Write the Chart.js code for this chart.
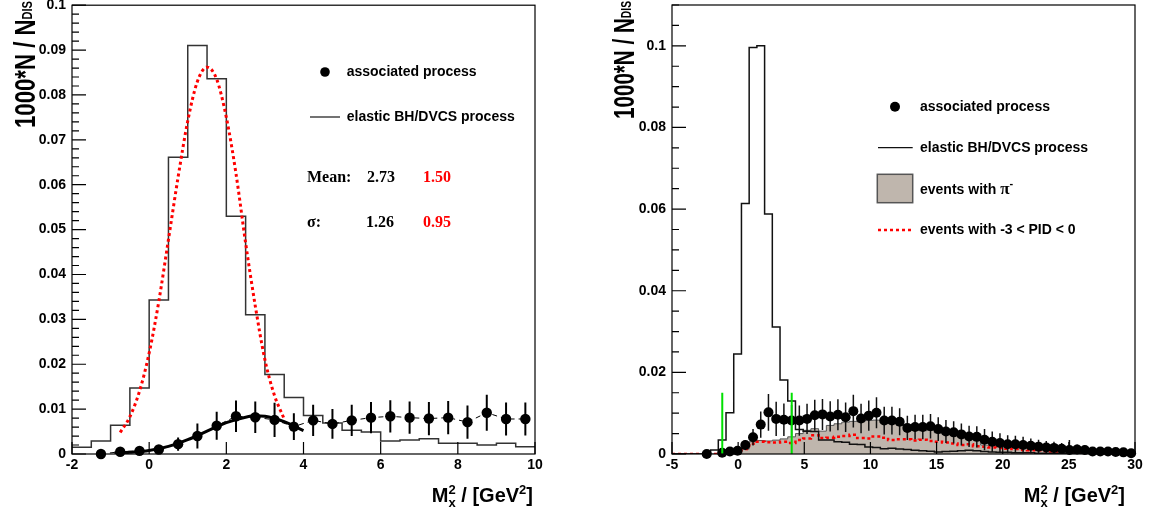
<!DOCTYPE html>
<html>
<head>
<meta charset="utf-8">
<script src="https://cdn.jsdelivr.net/npm/chart.js@4.4.0/dist/chart.umd.min.js"></script>
<style>
  body { margin: 0; background: #fff; }
  canvas { position: absolute; top: 0; }
  #leftChart { left: 0; }
  #rightChart { left: 577px; }
</style>
</head>
<body>
<canvas id="leftChart" width="577" height="513"></canvas>
<canvas id="rightChart" width="577" height="513"></canvas>
<script>
// ---------- left panel: 24 bins of 0.5 GeV^2 from -2 to 10
const leftBinStart = -2;
const leftBinWidth = 0.5;
const leftElastic = [0.0015, 0.0029, 0.0064, 0.0147, 0.0343, 0.0661, 0.0910, 0.0836, 0.0530, 0.0310, 0.0177, 0.0126,
                     0.0086, 0.0069, 0.0053, 0.0049, 0.0029, 0.0031, 0.0034, 0.0024, 0.0024, 0.0020, 0.0024, 0.0016];
const leftAssoc = [null, 0.0000, 0.0005, 0.0007, 0.0010, 0.0022, 0.0040, 0.0063, 0.0084, 0.0082, 0.0076, 0.0061,
                   0.0075, 0.0067, 0.0075, 0.0081, 0.0084, 0.0081, 0.0079, 0.0081, 0.0071, 0.0092, 0.0078, 0.0078];
const leftAssocErr = [null, 0.0003, 0.0004, 0.0005, 0.0007, 0.0015, 0.0028, 0.0031, 0.0035, 0.0035, 0.0038, 0.0030,
                      0.0035, 0.0033, 0.0035, 0.0035, 0.0036, 0.0036, 0.0037, 0.0037, 0.0037, 0.0040, 0.0037, 0.0037];
// fitted curves
const leftElasticFitX = [-0.75, -0.5, -0.25, 0, 0.25, 0.5, 0.75, 1.0, 1.25, 1.5, 1.75, 2.0, 2.25, 2.5, 2.75, 3.0, 3.25, 3.5];
const leftElasticFitY = [0.0048, 0.0083, 0.0140, 0.0225, 0.0340, 0.0478, 0.0617, 0.0742, 0.0830, 0.0862, 0.0835, 0.0750,
                         0.0625, 0.0470, 0.0330, 0.0210, 0.0130, 0.0078];
const leftAssocFitX = [-0.9, -0.5, 0, 0.5, 1.0, 1.5, 2.0, 2.5, 2.75, 3.0, 3.5, 4.0];
const leftAssocFitY = [0.0002, 0.0004, 0.0008, 0.0017, 0.0032, 0.0051, 0.0070, 0.0082, 0.0085, 0.0084, 0.0072, 0.0052];
const leftXTicks = { min: -2, max: 10, step: 2 };
const leftYTicks = { min: 0, max: 0.1, step: 0.01, minor: 0.002 };

// ---------- right panel: 60 bins from -5 to 30
const rightBinStart = -5;
const rightBinWidth = 35 / 60;
const rightElastic = [0, 0, 0, 0, 0, 0.0010, 0.0034, 0.0101, 0.0245, 0.0614,
                      0.0996, 0.1000, 0.0588, 0.0311, 0.0181, 0.0130, 0.0060, 0.0056, 0.0055, 0.0034,
                      0.0034, 0.0030, 0.0029, 0.0024, 0.0023, 0.0017, 0.0016, 0.0013, 0.0014, 0.0012,
                      0.0011, 0.0009, 0.0008, 0.0007, 0.0005, 0.0006, 0.0007, 0.0008, 0.0009, 0.0008,
                      0.0006, 0.0005, 0.0004, 0.0004, 0.0003, 0.0003, 0.0003, 0.0002, 0.0002, 0.0002,
                      0.0001, 0.0001, 0.0001, 0.0001, 0.0001, 0, 0, 0, 0, 0];
const rightPion = [0, 0, 0, 0, 0, 0, 0, 0, 0, 0.0012,
                   0.0030, 0.0033, 0.0032, 0.0034, 0.0037, 0.0042, 0.0050, 0.0058, 0.0062, 0.0056,
                   0.0070, 0.0074, 0.0078, 0.0080, 0.0079, 0.0082, 0.0083, 0.0077, 0.0075, 0.0074,
                   0.0060, 0.0058, 0.0057, 0.0058, 0.0052, 0.0048, 0.0047, 0.0042, 0.0040, 0.0038,
                   0.0022, 0.0020, 0.0018, 0.0017, 0.0015, 0.0013, 0.0012, 0.0011, 0.0010, 0.0009,
                   0.0008, 0.0007, 0.0006, 0.0005, 0.0004, 0.0003, 0.0003, 0.0002, 0.0001, 0.0001];
const rightPid = [0, 0, 0, 0, 0, 0, 0, 0, 0, 0.0012,
                  0.0025, 0.0030, 0.0029, 0.0028, 0.0030, 0.0027, 0.0034, 0.0038, 0.0046, 0.0039,
                  0.0040, 0.0042, 0.0044, 0.0047, 0.0039, 0.0038, 0.0043, 0.0040, 0.0034, 0.0036,
                  0.0036, 0.0033, 0.0035, 0.0032, 0.0030, 0.0028, 0.0026, 0.0022, 0.0024, 0.0019,
                  0.0018, 0.0016, 0.0015, 0.0013, 0.0012, 0.0010, 0.0009, 0.0009, 0.0007, 0.0006,
                  0.0005, 0.0004, 0.0004, 0.0003, 0.0002, 0.0001, 0.0001, 0.0001, 0.0001, 0.0001];
const rightAssoc = [null, null, null, null, 0.0000, null, 0.0003, 0.0006, 0.0008, 0.0022,
                    0.0041, 0.0072, 0.0102, 0.0086, 0.0084, 0.0082, 0.0082, 0.0086, 0.0095, 0.0097,
                    0.0092, 0.0096, 0.0090, 0.0105, 0.0087, 0.0094, 0.0101, 0.0082, 0.0082, 0.0079,
                    0.0064, 0.0066, 0.0066, 0.0068, 0.0061, 0.0055, 0.0053, 0.0048, 0.0043, 0.0042,
                    0.0035, 0.0030, 0.0027, 0.0024, 0.0024, 0.0022, 0.0020, 0.0018, 0.0016, 0.0015,
                    0.0013, 0.0010, 0.0011, 0.0010, 0.0006, 0.0006, 0.0006, 0.0005, 0.0004, 0.0002];
const rightAssocErr = [null, null, null, null, 0.0002, null, 0.0003, 0.0005, 0.0006, 0.0012,
                       0.0020, 0.0032, 0.0045, 0.0042, 0.0040, 0.0038, 0.0037, 0.0037, 0.0038, 0.0038,
                       0.0037, 0.0038, 0.0036, 0.0040, 0.0036, 0.0037, 0.0038, 0.0034, 0.0034, 0.0033,
                       0.0030, 0.0030, 0.0030, 0.0030, 0.0029, 0.0028, 0.0027, 0.0027, 0.0026, 0.0026,
                       0.0026, 0.0025, 0.0024, 0.0022, 0.0021, 0.0020, 0.0018, 0.0017, 0.0016, 0.0015,
                       0.0014, 0.0024, 0.0012, 0.0011, 0.0010, 0.0009, 0.0008, 0.0007, 0.0006, 0.0005];
const rightCutX = [-1.2, 4.05];
const rightCutHeight = 0.015;
const rightXTicks = { min: -5, max: 30, step: 5 };
const rightYTicks = { min: 0, max: 0.11, step: 0.02, minor: 0.005 };

const SANS = '"Liberation Sans", Arial, sans-serif';
const SERIF = '"Liberation Serif", "Times New Roman", serif';

// histogram as left-edge points plus the closing edge, drawn stepped
function histPoints(start, width, values) {
    const pts = values.map((v, i) => ({ x: start + i * width, y: v }));
    pts.push({ x: start + values.length * width, y: values[values.length - 1] });
    return pts;
}

function centerPoints(start, width, values) {
    return values.map((v, i) => ({ x: start + (i + 0.5) * width, y: v }));
}

// vertical error bars as point pairs broken by gaps
function errorBarPoints(start, width, values, errs) {
    const pts = [];
    values.forEach((v, i) => {
        if (v === null) return;
        const x = start + (i + 0.5) * width;
        pts.push({ x, y: v - errs[i] }, { x, y: v + errs[i] }, { x, y: null });
    });
    return pts;
}

function curvePoints(xs, ys) {
    return xs.map((x, i) => ({ x, y: ys[i] }));
}

function fmtY(v) {
    return v === 0 ? '0' : String(Math.round(v * 1000) / 1000);
}

function drawRich(ctx, parts, x, y, align) {
    let w = 0;
    parts.forEach(p => {
        ctx.font = `bold ${p.size}px ${p.family || SANS}`;
        p.w = ctx.measureText(p.t).width;
        if (!p.stack) w += p.w;
    });
    let cx = align === 'right' ? x - w : x;
    parts.forEach(p => {
        ctx.font = `bold ${p.size}px ${p.family || SANS}`;
        ctx.fillStyle = p.color || '#000';
        ctx.fillText(p.t, cx, y + (p.dy || 0));
        if (!p.stack) cx += p.w;
    });
    return w;
}

function yTitleParts() {
    return [{ t: '1000*N / N', size: 30 }, { t: 'DIS', size: 15, dy: -3 }];
}

function xTitleParts() {
    return [{ t: 'M', size: 20 }, { t: 'x', size: 13, dy: 5, stack: true }, { t: '2', size: 13, dy: -8 },
            { t: ' / [GeV', size: 20 }, { t: '2', size: 13, dy: -8 }, { t: ']', size: 20 }];
}

// ROOT-like frame, inner ticks and axis titles
function rootDecor(cfg) {
    return {
        id: 'rootDecor' + cfg.name,
        afterDraw(chart) {
            const ctx = chart.ctx;
            const a = chart.chartArea;
            const ys = chart.scales.y, xs = chart.scales.x;
            ctx.save();
            ctx.strokeStyle = '#000';
            ctx.lineWidth = 1.2;
            ctx.strokeRect(a.left, a.top, a.right - a.left, a.bottom - a.top);
            ctx.beginPath();
            const nMinor = Math.round((cfg.yTicks.max - cfg.yTicks.min) / cfg.yTicks.minor);
            for (let i = 0; i <= nMinor; i++) {
                const v = cfg.yTicks.min + i * cfg.yTicks.minor;
                const major = Math.abs(v / cfg.yTicks.step - Math.round(v / cfg.yTicks.step)) < 1e-6;
                const py = ys.getPixelForValue(v);
                ctx.moveTo(a.left, py);
                ctx.lineTo(a.left + (major ? 14 : 7), py);
            }
            for (let v = cfg.xTicks.min; v <= cfg.xTicks.max + 1e-9; v += cfg.xTicks.step) {
                const px = xs.getPixelForValue(v);
                ctx.moveTo(px, a.bottom);
                ctx.lineTo(px, a.bottom - 12);
            }
            ctx.stroke();

            // y title, rotated
            ctx.save();
            ctx.translate(cfg.yTitle.x, cfg.yTitle.top);
            ctx.rotate(-Math.PI / 2);
            const parts = yTitleParts();
            let w = 0;
            parts.forEach(p => { ctx.font = `bold ${p.size}px ${SANS}`; w += ctx.measureText(p.t).width; });
            ctx.scale(cfg.yTitle.len / w, 1);
            ctx.textBaseline = 'alphabetic';
            drawRich(ctx, yTitleParts(), 0, 0, 'right');
            ctx.restore();

            // x title
            ctx.textBaseline = 'alphabetic';
            drawRich(ctx, xTitleParts(), cfg.xTitle.right, cfg.xTitle.y, 'right');

            cfg.legend(ctx);
            ctx.restore();
        }
    };
}

function baseOptions(xt, yt, pad, yWidth) {
    return {
        responsive: false,
        animation: false,
        devicePixelRatio: 1,
        layout: { padding: pad },
        plugins: { legend: { display: false }, tooltip: { enabled: false } },
        scales: {
            x: {
                type: 'linear', min: xt.min, max: xt.max,
                grid: { display: false, drawTicks: false }, border: { display: false },
                ticks: { stepSize: xt.step, autoSkip: false, maxRotation: 0, padding: 3, color: '#000',
                         font: { family: SANS, size: 14, weight: 'bold' } },
                afterFit: s => { s.height = 59; s.paddingLeft = 0; s.paddingRight = 0; }
            },
            y: {
                type: 'linear', min: yt.min, max: yt.max,
                grid: { display: false, drawTicks: false }, border: { display: false },
                ticks: { stepSize: yt.step, includeBounds: false, padding: 6, color: '#000', callback: fmtY,
                         font: { family: SANS, size: 14, weight: 'bold' } },
                afterFit: s => { s.width = yWidth; s.paddingTop = 0; s.paddingBottom = 0; }
            }
        }
    };
}

function renderLeft() {
    const ctx = document.getElementById('leftChart').getContext('2d');
    new Chart(ctx, {
        type: 'line',
        data: {
            datasets: [
                { data: centerPoints(leftBinStart, leftBinWidth, leftAssoc), order: 0, showLine: true,
                  borderColor: '#000', borderWidth: 1, borderDash: [5, 4], spanGaps: true,
                  pointRadius: 5.2, pointBackgroundColor: '#000', pointBorderWidth: 0, clip: 8 },
                { data: errorBarPoints(leftBinStart, leftBinWidth, leftAssoc, leftAssocErr), order: 1,
                  borderColor: '#000', borderWidth: 2, pointRadius: 0, spanGaps: false },
                { data: curvePoints(leftAssocFitX, leftAssocFitY), order: 2, borderColor: '#000', borderWidth: 3,
                  pointRadius: 0, cubicInterpolationMode: 'monotone' },
                { data: curvePoints(leftElasticFitX, leftElasticFitY), order: 3, borderColor: '#ff0000', borderWidth: 3,
                  borderDash: [3, 3], pointRadius: 0, cubicInterpolationMode: 'monotone' },
                { data: histPoints(leftBinStart, leftBinWidth, leftElastic), order: 4, stepped: true,
                  borderColor: '#333', borderWidth: 1.5, pointRadius: 0 }
            ]
        },
        options: baseOptions(leftXTicks, leftYTicks, { left: 0, right: 42, top: 5, bottom: 0 }, 72),
        plugins: [rootDecor({
            name: 'L', xTicks: leftXTicks, yTicks: leftYTicks,
            yTitle: { x: 35, top: 1, len: 127 },
            xTitle: { right: 533, y: 502 },
            legend: c => {
                c.fillStyle = '#000';
                c.beginPath(); c.arc(325, 72, 4.8, 0, Math.PI * 2); c.fill();
                c.strokeStyle = '#444'; c.lineWidth = 1.5;
                c.beginPath(); c.moveTo(310, 117); c.lineTo(340, 117); c.stroke();
                c.textBaseline = 'middle';
                c.font = `bold 14px ${SANS}`;
                c.fillText('associated process', 346.7, 72);
                c.fillText('elastic BH/DVCS process', 346.7, 117);
                c.font = `bold 16px ${SERIF}`;
                c.fillText('Mean:', 307, 178);
                c.fillText('2.73', 367, 178);
                c.fillText('\u03c3:', 307, 223);
                c.fillText('1.26', 366, 223);
                c.fillStyle = '#ff0000';
                c.fillText('1.50', 423, 178);
                c.fillText('0.95', 423, 223);
            }
        })]
    });
}

function renderRight() {
    const ctx = document.getElementById('rightChart').getContext('2d');
    const cutPts = [];
    rightCutX.forEach(x => { cutPts.push({ x, y: 0 }, { x, y: rightCutHeight }, { x, y: null }); });
    new Chart(ctx, {
        type: 'line',
        data: {
            datasets: [
                { data: cutPts, order: 0, borderColor: '#00e000', borderWidth: 2, pointRadius: 0, spanGaps: false },
                { data: centerPoints(rightBinStart, rightBinWidth, rightAssoc), order: 1, showLine: false,
                  pointRadius: 5, pointBackgroundColor: '#000', pointBorderWidth: 0, clip: 8 },
                { data: errorBarPoints(rightBinStart, rightBinWidth, rightAssoc, rightAssocErr), order: 2,
                  borderColor: '#111', borderWidth: 1.5, pointRadius: 0, spanGaps: false },
                { data: histPoints(rightBinStart, rightBinWidth, rightElastic), order: 3, stepped: true,
                  borderColor: '#111', borderWidth: 1.5, pointRadius: 0 },
                { data: histPoints(rightBinStart, rightBinWidth, rightPid), order: 4, stepped: true,
                  borderColor: '#ff0000', borderWidth: 2.5, borderDash: [3, 3], pointRadius: 0 },
                { data: histPoints(rightBinStart, rightBinWidth, rightPion), order: 5, stepped: true,
                  borderColor: '#555', borderWidth: 1, pointRadius: 0, fill: 'origin', backgroundColor: '#bfb6ad' }
            ]
        },
        options: baseOptions(rightXTicks, rightYTicks, { left: 0, right: 19, top: 5, bottom: 0 }, 95),
        plugins: [rootDecor({
            name: 'R', xTicks: rightXTicks, yTicks: rightYTicks,
            yTitle: { x: 57, top: 1, len: 118 },
            xTitle: { right: 548, y: 502 },
            legend: c => {
                c.fillStyle = '#000';
                c.beginPath(); c.arc(318, 106.7, 5, 0, Math.PI * 2); c.fill();
                c.strokeStyle = '#111'; c.lineWidth = 1.2;
                c.beginPath(); c.moveTo(301, 147.7); c.lineTo(335.7, 147.7); c.stroke();
                c.fillStyle = '#bfb6ad'; c.fillRect(300.3, 174.3, 35.4, 28.4);
                c.strokeStyle = '#555'; c.lineWidth = 1.5; c.strokeRect(300.3, 174.3, 35.4, 28.4);
                c.strokeStyle = '#ff0000'; c.lineWidth = 2.5; c.setLineDash([3, 3]);
                c.beginPath(); c.moveTo(301, 230); c.lineTo(335.7, 230); c.stroke();
                c.setLineDash([]);
                c.fillStyle = '#000';
                c.textBaseline = 'middle';
                c.font = `bold 14px ${SANS}`;
                c.fillText('associated process', 343, 106.7);
                c.fillText('elastic BH/DVCS process', 343, 147.7);
                c.fillText('events with -3 < PID < 0', 343, 230);
                drawRich(c, [{ t: 'events with ', size: 14 }, { t: '\u03c0', size: 17, family: SERIF },
                             { t: '-', size: 11, dy: -6 }], 343, 190, 'left');
            }
        })]
    });
}

function initCharts() {
    renderLeft();
    renderRight();
}

initCharts();
</script>
</body>
</html>
